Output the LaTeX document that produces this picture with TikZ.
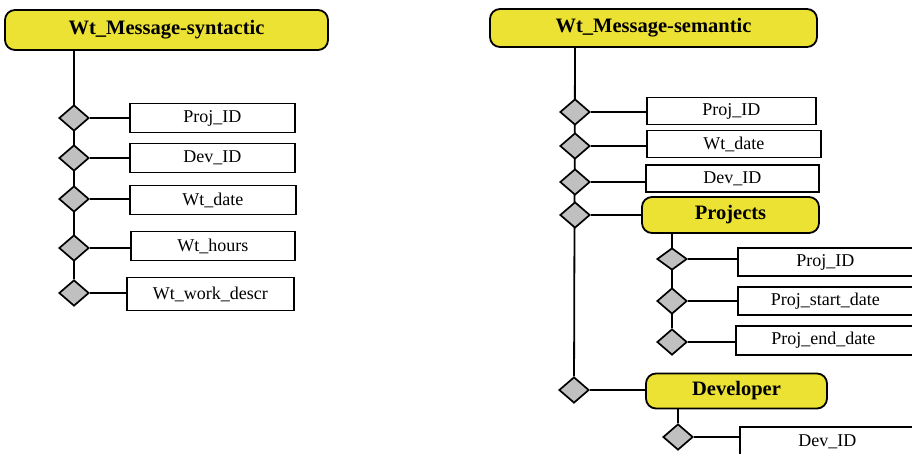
\documentclass[tikz,border=0pt]{standalone}
\usepackage{fontspec}
\setmainfont{Liberation Serif}
\usetikzlibrary{shapes.geometric,positioning,backgrounds}
\definecolor{msgyellow}{RGB}{236,226,52}
\definecolor{jointgray}{RGB}{192,192,192}

\begin{document}
\begin{tikzpicture}[x=1pt, y=-1pt,
      link/.style={line width=1.8pt, black},
      group/.style={draw, line width=1.8pt, rounded corners=10pt, fill=msgyellow,
                    inner sep=0pt, font=\fontsize{20.5}{23}\selectfont\bfseries},
      field/.style={draw, line width=1.7pt, fill=white, anchor=west, inner sep=0pt,
                    minimum height=29pt, font=\fontsize{18}{20}\selectfont},
      joint/.style={diamond, draw, line width=1.7pt, fill=jointgray, inner sep=0pt,
                    minimum width=30pt, minimum height=26pt}
    ]
    \useasboundingbox (0,0) rectangle (912,453);
    \clip (0,0) rectangle (912,453);

    % syntactic message
    \node[group, minimum width=323pt, minimum height=40pt] (syn) at (166.5,30) {Wt\_Message-syntactic};
    \node[joint] (s1) at (74,118) {};
    \node[joint] (s2) at (74,158) {};
    \node[joint] (s3) at (74,199) {};
    \node[joint] (s4) at (74,248) {};
    \node[joint] (s5) at (74,293) {};
    \node[field, minimum width=165pt] (sproj) at (129,118) {Proj\_ID};
    \node[field, minimum width=165pt] (sdev)  at (129,158) {Dev\_ID};
    \node[field, minimum width=166pt] (sdate) at (129,200) {Wt\_date};
    \node[field, minimum width=164pt] (shrs)  at (130,246) {Wt\_hours};
    \node[field, minimum width=167pt, minimum height=33pt] (sdescr) at (126,294) {Wt\_work\_descr};

    % semantic message
    \node[group, minimum width=327pt, minimum height=38pt] (sem) at (653.5,28) {Wt\_Message-semantic};
    \node[joint] (m1) at (575,112) {};
    \node[joint] (m2) at (575,146) {};
    \node[joint] (m3) at (575,182) {};
    \node[joint] (m4) at (575,215) {};
    \node[joint] (m5) at (574,390) {};
    \node[field, minimum width=169pt, minimum height=27pt] (mproj) at (646,111) {Proj\_ID};
    \node[field, minimum width=174pt, minimum height=27pt] (mdate) at (646,144) {Wt\_date};
    \node[field, minimum width=173pt, minimum height=27pt] (mdev)  at (645,178.5) {Dev\_ID};
    \node[group, minimum width=177pt, minimum height=36pt] (proj) at (730.5,215) {Projects};
    \node[group, minimum width=181pt, minimum height=35pt] (devr) at (736.5,391) {Developer};

    % projects fields
    \node[joint, minimum height=22pt] (p1) at (672,259) {};
    \node[joint] (p2) at (672,301) {};
    \node[joint] (p3) at (672,342) {};
    \node[field, minimum width=180pt, minimum height=28pt] (pid)    at (737,262) {\hspace*{-5pt}Proj\_ID};
    \node[field, minimum width=180pt, minimum height=28pt] (pstart) at (737,301) {\hspace*{-5pt}Proj\_start\_date};
    \node[field, minimum width=180pt, minimum height=29pt] (pend)   at (735,340.5) {\hspace*{-5pt}Proj\_end\_date};

    % developer fields
    \node[joint] (v1) at (678,437) {};
    \node[field, minimum width=180pt, minimum height=30pt] (vid) at (739,442) {\hspace*{-5pt}Dev\_ID};

    \begin{scope}[on background layer]
      \draw[link] (s1 |- syn.south) -- (s5);
      \draw[link] (m1 |- sem.south) -- (m5);
      \draw[link] (p1 |- proj.south) -- (p3);
      \draw[link] (v1 |- devr.south) -- (v1);
      \draw[link] (s1) -- (s1 -| sproj.west);
      \draw[link] (s2) -- (s2 -| sdev.west);
      \draw[link] (s3) -- (s3 -| sdate.west);
      \draw[link] (s4) -- (s4 -| shrs.west);
      \draw[link] (s5) -- (s5 -| sdescr.west);
      \draw[link] (m1) -- (m1 -| mproj.west);
      \draw[link] (m2) -- (m2 -| mdate.west);
      \draw[link] (m3) -- (m3 -| mdev.west);
      \draw[link] (m4) -- (m4 -| proj.west);
      \draw[link] (m5) -- (m5 -| devr.west);
      \draw[link] (p1) -- (p1 -| pid.west);
      \draw[link] (p2) -- (p2 -| pstart.west);
      \draw[link] (p3) -- (p3 -| pend.west);
      \draw[link] (v1) -- (v1 -| vid.west);
    \end{scope}
  \end{tikzpicture}
\end{document}
